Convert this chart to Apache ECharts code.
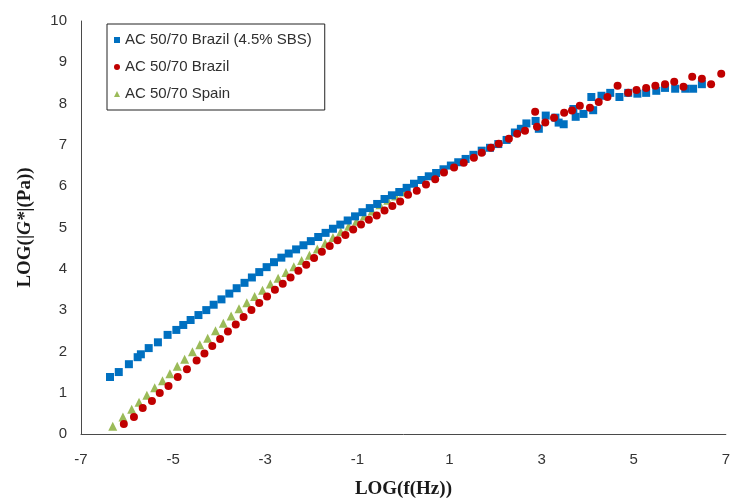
<!DOCTYPE html>
<html>
<head>
<meta charset="utf-8">
<script src="https://cdn.jsdelivr.net/npm/echarts@6/dist/echarts.min.js"></script>
<style>html,body{margin:0;padding:0;background:#fff}#c{width:733px;height:504px}</style>
</head>
<body>
<div id="c"></div>
<script>
const seriesNames = ['AC 50/70 Brazil (4.5% SBS)', 'AC 50/70 Brazil', 'AC 50/70 Spain'];
const xTicks = [-7, -5, -3, -1, 1, 3, 5, 7];
const yTicks = [0, 1, 2, 3, 4, 5, 6, 7, 8, 9, 10];

const brazilSBS = [[-6.37,1.38],[-6.18,1.50],[-5.96,1.69],[-5.77,1.86],[-5.70,1.93],[-5.53,2.08],[-5.33,2.22],[-5.12,2.40],[-4.93,2.52],[-4.78,2.64],[-4.62,2.76],[-4.45,2.88],[-4.28,3.00],[-4.12,3.13],[-3.95,3.26],[-3.78,3.40],[-3.62,3.53],[-3.45,3.66],[-3.29,3.79],[-3.13,3.92],[-2.97,4.04],[-2.81,4.16],[-2.65,4.27],[-2.49,4.37],[-2.33,4.47],[-2.17,4.57],[-2.01,4.67],[-1.85,4.77],[-1.69,4.87],[-1.53,4.97],[-1.37,5.07],[-1.21,5.17],[-1.05,5.27],[-0.89,5.37],[-0.73,5.47],[-0.57,5.57],[-0.41,5.69],[-0.25,5.78],[-0.09,5.86],[0.07,5.96],[0.23,6.06],[0.39,6.15],[0.55,6.24],[0.71,6.32],[0.87,6.41],[1.03,6.50],[1.19,6.58],[1.35,6.66],[1.52,6.76],[1.70,6.86],[1.88,6.93],[2.06,7.02],[2.24,7.12],[2.42,7.30],[2.55,7.39],[2.67,7.52],[2.87,7.58],[2.94,7.39],[3.09,7.71],[3.30,7.66],[3.37,7.54],[3.48,7.50],[3.69,7.87],[3.74,7.68],[3.91,7.75],[4.08,8.16],[4.12,7.84],[4.30,8.19],[4.49,8.26],[4.69,8.16],[4.88,8.26],[5.08,8.24],[5.27,8.26],[5.49,8.31],[5.68,8.38],[5.90,8.36],[6.12,8.36],[6.29,8.36],[6.48,8.47]];

const brazil = [[-6.07,0.24],[-5.85,0.41],[-5.66,0.63],[-5.46,0.80],[-5.29,0.99],[-5.10,1.16],[-4.90,1.38],[-4.70,1.57],[-4.49,1.78],[-4.32,1.95],[-4.15,2.13],[-3.98,2.30],[-3.81,2.48],[-3.64,2.65],[-3.47,2.83],[-3.30,3.00],[-3.13,3.17],[-2.96,3.33],[-2.79,3.49],[-2.62,3.64],[-2.45,3.79],[-2.28,3.95],[-2.11,4.10],[-1.94,4.26],[-1.77,4.41],[-1.60,4.55],[-1.43,4.69],[-1.26,4.82],[-1.09,4.95],[-0.92,5.07],[-0.75,5.19],[-0.58,5.29],[-0.41,5.41],[-0.24,5.52],[-0.07,5.63],[0.10,5.79],[0.29,5.89],[0.49,6.04],[0.69,6.17],[0.88,6.33],[1.10,6.45],[1.31,6.57],[1.53,6.69],[1.70,6.81],[1.90,6.93],[2.07,7.03],[2.29,7.15],[2.47,7.27],[2.64,7.34],[2.86,7.80],[2.90,7.44],[3.08,7.54],[3.27,7.66],[3.49,7.78],[3.66,7.83],[3.83,7.95],[4.05,7.90],[4.24,8.04],[4.43,8.16],[4.65,8.43],[4.88,8.26],[5.06,8.33],[5.27,8.38],[5.47,8.43],[5.68,8.47],[5.88,8.53],[6.08,8.41],[6.27,8.65],[6.48,8.60],[6.68,8.47],[6.90,8.72]];

const spain = [[-6.31,0.19],[-6.09,0.41],[-5.90,0.60],[-5.74,0.77],[-5.57,0.94],[-5.40,1.12],[-5.23,1.29],[-5.07,1.46],[-4.91,1.64],[-4.75,1.81],[-4.58,1.99],[-4.42,2.16],[-4.25,2.32],[-4.08,2.50],[-3.91,2.68],[-3.74,2.86],[-3.57,3.03],[-3.40,3.18],[-3.23,3.33],[-3.06,3.48],[-2.89,3.63],[-2.72,3.77],[-2.55,3.91],[-2.38,4.05],[-2.21,4.20],[-2.04,4.33],[-1.87,4.48],[-1.70,4.62],[-1.53,4.76],[-1.36,4.90],[-1.19,5.03],[-1.02,5.15],[-0.85,5.28],[-0.68,5.40],[-0.51,5.55],[-0.34,5.66],[-0.17,5.76],[0.00,5.86]];

const colors = ['#0070C0', '#C00000', '#9BBB59'];
const chart = echarts.init(document.getElementById('c'));
chart.setOption({
  animation: false,
  backgroundColor: '#fff',
  grid: { left: 81, right: 3, top: 21, bottom: 69, containLabel: false },
  legend: {
    orient: 'vertical',
    left: 107, top: 24,
    padding: [7, 13, 7, 7],
    itemGap: 9,
    itemWidth: 6, itemHeight: 6,
    itemStyle: { borderWidth: 0 },
    borderColor: '#222', borderWidth: 1,
    textStyle: { fontFamily: 'Liberation Sans, Arial', fontSize: 15, color: '#303030', lineHeight: 18 },
    data: [
      { name: seriesNames[0], icon: 'rect' },
      { name: seriesNames[1], icon: 'circle' },
      { name: seriesNames[2], icon: 'triangle' }
    ]
  },
  xAxis: {
    type: 'value', min: -7, max: 7, interval: 2,
    name: 'LOG(f(Hz))', nameLocation: 'middle', nameGap: 46,
    nameTextStyle: { fontFamily: 'Liberation Serif, Times New Roman', fontWeight: 'bold', fontSize: 19, color: '#1a1a1a' },
    axisLine: { onZero: false, lineStyle: { color: '#4a4a4a', width: 1 } },
    axisTick: { show: false },
    splitLine: { show: false },
    axisLabel: { margin: 18, fontFamily: 'Liberation Sans, Arial', fontSize: 15, color: '#333', showMaxLabel: true, showMinLabel: true }
  },
  yAxis: {
    type: 'value', min: 0, max: 10, interval: 1,
    name: '{a|LOG(|}{b|G*}{a||(Pa))}', nameLocation: 'middle', nameGap: 46, nameRotate: 90,
    nameTextStyle: {
      fontFamily: 'Liberation Serif, Times New Roman', fontWeight: 'bold', fontSize: 19, color: '#1a1a1a',
      rich: {
        a: { fontFamily: 'Liberation Serif, Times New Roman', fontWeight: 'bold', fontSize: 19, color: '#1a1a1a' },
        b: { fontFamily: 'Liberation Serif, Times New Roman', fontWeight: 'bold', fontStyle: 'italic', fontSize: 19, color: '#1a1a1a' }
      }
    },
    axisLine: { show: true, onZero: false, lineStyle: { color: '#4a4a4a', width: 1 } },
    axisTick: { show: false },
    splitLine: { show: false },
    axisLabel: { margin: 14, fontFamily: 'Liberation Sans, Arial', fontSize: 15, color: '#333' }
  },
  series: [
    { name: seriesNames[2], type: 'scatter', data: spain, symbol: 'triangle', symbolSize: 9, itemStyle: { color: colors[2], opacity: 1 }, z: 2 },
    { name: seriesNames[0], type: 'scatter', data: brazilSBS, symbol: 'rect', symbolSize: 8, itemStyle: { color: colors[0], opacity: 1 }, z: 3 },
    { name: seriesNames[1], type: 'scatter', data: brazil, symbol: 'circle', symbolSize: 8, itemStyle: { color: colors[1], opacity: 1 }, z: 4 }
  ]
});
</script>
</body>
</html>
